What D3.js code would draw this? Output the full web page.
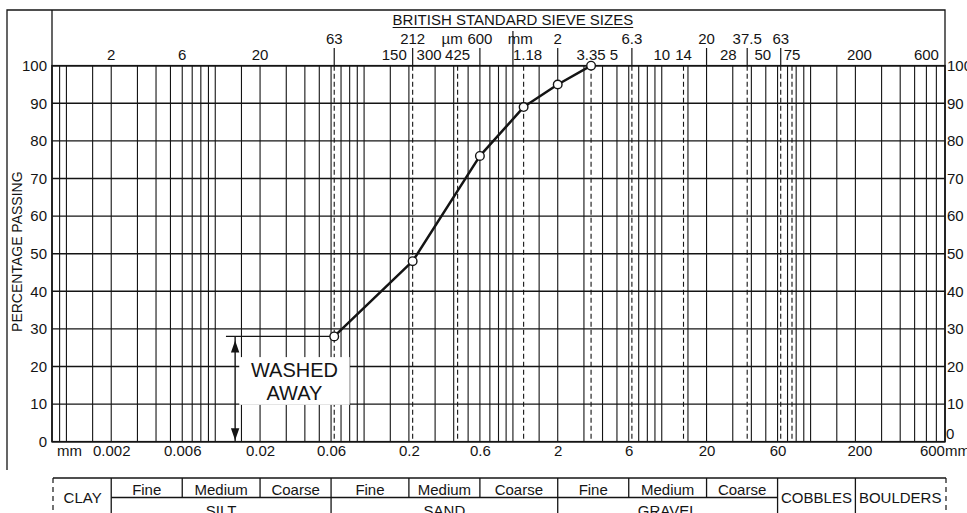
<!DOCTYPE html>
<html>
<head>
<meta charset="utf-8">
<script src="https://cdn.jsdelivr.net/npm/d3@7"></script>
<style>
  body { margin: 0; background: #fff; }
  svg text { font-family: "Liberation Sans", Arial, Helvetica, sans-serif; fill: #141414; }
</style>
</head>
<body>
<svg id="chart" width="967" height="513"></svg>
<script>
// Particle size distribution – sieve analysis results
const sieveSizesMm   = [0.063, 0.212, 0.6, 1.18, 2, 3.35];
const percentPassing = [28, 48, 76, 89, 95, 100];

// Percentage axis
const percentTicks = [0, 10, 20, 30, 40, 50, 60, 70, 80, 90, 100];

// Log grid: mantissas used within each decade
const gridMantissas = [1, 1.5, 2, 3, 4, 5, 6, 7, 8, 9];
const gridExponents = [-4, -3, -2, -1, 0, 1, 2];

// British Standard sieve apertures shown as dashed lines (mm)
const bsSieveLines = [0.063, 0.212, 0.425, 1.18, 3.35, 6.3, 14, 37.5, 63, 75];

// Header labels (mm values, text)
const upperSieveValues = [0.063, 0.212, 0.6, 2, 6.3, 20, 37.5, 63];
const upperSieveLabels = ["63", "212", "600", "2", "6.3", "20", "37.5", "63"];
const lowerSieveValues = [0.002, 0.006, 0.02, 0.15, 0.3, 0.425, 1.18, 3.35, 5, 10, 14, 28, 50, 75, 200, 600];
const lowerSieveLabels = ["2", "6", "20", "150", "300", "425", "1.18", "3.35", "5", "10", "14", "28", "50", "75", "200", "600"];

// Particle size axis labels (mm)
const sizeAxisValues = [0.002, 0.006, 0.02, 0.06, 0.2, 0.6, 2, 6, 20, 60, 200, 600];
const sizeAxisLabels = ["0.002", "0.006", "0.02", "0.06", "0.2", "0.6", "2", "6", "20", "60", "200", "600mm"];

// Soil classification bands (mm)
const soilClasses     = ["CLAY", "SILT", "SAND", "GRAVEL", "COBBLES", "BOULDERS"];
const soilClassBounds = [0.0008, 0.002, 0.06, 2, 60, 200, 800];
const subClassNames   = ["Fine", "Medium", "Coarse"];
const siltSubBounds   = [0.002, 0.006, 0.02, 0.06];
const sandSubBounds   = [0.06, 0.2, 0.6, 2];
const gravelSubBounds = [2, 6, 20, 60];

// ---------------------------------------------------------------
const ink = "#141414";
const svg = d3.select("#chart");
const plot = { left: 52, right: 945, top: 65.7, bottom: 441.7 };

const x = d3.scaleLog().domain([0.0008, 800]).range([plot.left, plot.right]);
const y = d3.scaleLinear().domain([0, 100]).range([plot.bottom, plot.top]);

// outer frame and header box
svg.append("path")
  .attr("d", `M7,470 V10 H${plot.right} V${plot.bottom} M${plot.left},10 V${plot.bottom}`)
  .attr("fill", "none").attr("stroke", ink).attr("stroke-width", 1.3);

// vertical log grid
const gridValues = [];
gridExponents.forEach(e => gridMantissas.forEach(m => {
  const v = +(m * Math.pow(10, e)).toPrecision(6);
  if (v > 0.00081 && v < 790) gridValues.push(v);
}));
const grid = svg.append("g");
grid.selectAll("line.v").data(gridValues).join("line")
  .attr("class", "v")
  .attr("x1", d => x(d)).attr("x2", d => x(d))
  .attr("y1", plot.top).attr("y2", plot.bottom)
  .attr("stroke", ink).attr("stroke-width", 1.1);

// sieve aperture lines
grid.selectAll("line.s").data(bsSieveLines).join("line")
  .attr("class", "s")
  .attr("x1", d => x(d)).attr("x2", d => x(d))
  .attr("y1", plot.top).attr("y2", plot.bottom)
  .attr("stroke", ink).attr("stroke-width", 1.1)
  .attr("stroke-dasharray", "5,3");

// horizontal percentage grid
grid.selectAll("line.h").data(percentTicks).join("line")
  .attr("class", "h")
  .attr("x1", plot.left).attr("x2", plot.right)
  .attr("y1", d => y(d)).attr("y2", d => y(d))
  .attr("stroke", ink).attr("stroke-width", 1.4);

// plot border
svg.append("rect")
  .attr("x", plot.left).attr("y", plot.top)
  .attr("width", plot.right - plot.left).attr("height", plot.bottom - plot.top)
  .attr("fill", "none").attr("stroke", ink).attr("stroke-width", 1.6);

// "washed away" annotation: fines lost below the first sieve
const firstPct = percentPassing[0];
const box = { x0: x(0.0145), x1: x(0.08), y0: y(22.5), y1: y(9.8) };
svg.append("rect")
  .attr("x", box.x0).attr("y", box.y0)
  .attr("width", box.x1 - box.x0).attr("height", box.y1 - box.y0)
  .attr("fill", "#fff");
const arrowX = x(0.0136);
svg.append("line")
  .attr("x1", x(0.0118)).attr("x2", x(sieveSizesMm[0]))
  .attr("y1", y(firstPct)).attr("y2", y(firstPct))
  .attr("stroke", ink).attr("stroke-width", 1.4);
svg.append("line")
  .attr("x1", arrowX).attr("x2", arrowX)
  .attr("y1", y(firstPct)).attr("y2", y(0))
  .attr("stroke", ink).attr("stroke-width", 1.4);
const tipTop = y(firstPct) + 4, tipBot = y(0) - 1.5;
svg.append("path")
  .attr("d", `M${arrowX},${tipTop} L${arrowX - 4.2},${tipTop + 12} L${arrowX + 4.2},${tipTop + 12} Z` +
             `M${arrowX},${tipBot} L${arrowX - 4.2},${tipBot - 12} L${arrowX + 4.2},${tipBot - 12} Z`)
  .attr("fill", ink);
const boxCx = (box.x0 + box.x1) / 2;
svg.append("text").attr("x", boxCx).attr("y", 376.5)
  .attr("text-anchor", "middle").attr("font-size", 20).text("WASHED");
svg.append("text").attr("x", boxCx).attr("y", 400)
  .attr("text-anchor", "middle").attr("font-size", 20).text("AWAY");

// grading curve
const pts = sieveSizesMm.map((d, i) => [d, percentPassing[i]]);
svg.append("path")
  .datum(pts)
  .attr("d", d3.line().x(d => x(d[0])).y(d => y(d[1])))
  .attr("fill", "none").attr("stroke", ink).attr("stroke-width", 2.5)
  .attr("stroke-linejoin", "round");
svg.selectAll("circle.pt").data(pts).join("circle")
  .attr("class", "pt")
  .attr("cx", d => x(d[0])).attr("cy", d => y(d[1])).attr("r", 4.3)
  .attr("fill", "#fff").attr("stroke", ink).attr("stroke-width", 1.4);

// header: title and sieve sizes
const title = svg.append("text")
  .attr("x", x(1)).attr("y", 25)
  .attr("text-anchor", "middle").attr("font-size", 15)
  .text("BRITISH STANDARD SIEVE SIZES");
const tw = title.node().getComputedTextLength();
svg.append("line")
  .attr("x1", x(1) - tw / 2).attr("x2", x(1) + tw / 2)
  .attr("y1", 27.5).attr("y2", 27.5)
  .attr("stroke", ink).attr("stroke-width", 1.2);

const header = svg.append("g").attr("font-size", 15).attr("text-anchor", "middle");
header.selectAll("text.up").data(upperSieveValues).join("text")
  .attr("class", "up")
  .attr("x", d => x(d)).attr("y", 44)
  .text((d, i) => upperSieveLabels[i]);
header.selectAll("line.tick").data(upperSieveValues).join("line")
  .attr("class", "tick")
  .attr("x1", d => x(d)).attr("x2", d => x(d))
  .attr("y1", 48).attr("y2", plot.top)
  .attr("stroke", ink).attr("stroke-width", 1.2);
const lowerNudge = { "150": 4, "300": -6, "5": -3, "1.18": 4, "200": 4, "50": -3 };
header.selectAll("text.low").data(lowerSieveValues).join("text")
  .attr("class", "low")
  .attr("x", (d, i) => x(d) + (lowerNudge[lowerSieveLabels[i]] || 0)).attr("y", 60)
  .text((d, i) => lowerSieveLabels[i]);
header.append("text").attr("x", x(0.39)).attr("y", 44).text("µm");
header.append("text").attr("x", x(1.12)).attr("y", 44).text("mm");
svg.append("line")
  .attr("x1", x(1)).attr("x2", x(1)).attr("y1", 31).attr("y2", plot.top)
  .attr("stroke", ink).attr("stroke-width", 1.2);

// percentage axes
const yLeft = svg.append("g").attr("transform", `translate(${plot.left},0)`)
  .call(d3.axisLeft(y).tickValues(percentTicks).tickSize(0).tickPadding(5));
const yRight = svg.append("g").attr("transform", `translate(${plot.right},0)`)
  .call(d3.axisRight(y).tickValues(percentTicks).tickSize(0).tickPadding(2));
[yLeft, yRight].forEach(a => {
  a.select(".domain").remove();
  a.selectAll("text").attr("font-size", 15).attr("font-family", null).style("fill", ink);
});
yRight.selectAll(".tick").filter(d => d === 0).select("text").attr("dy", "-0.2em").attr("x", 1);

svg.append("text")
  .attr("transform", `translate(22,${(plot.top + plot.bottom) / 2 - 2}) rotate(-90)`)
  .attr("text-anchor", "middle").attr("font-size", 14)
  .text("PERCENTAGE PASSING");

// particle size axis
const xAxis = svg.append("g").attr("transform", `translate(0,${plot.bottom})`)
  .call(d3.axisBottom(x).tickValues(sizeAxisValues).tickSize(0).tickPadding(4)
    .tickFormat((d, i) => sizeAxisLabels[i]));
xAxis.select(".domain").remove();
xAxis.selectAll("text").attr("font-size", 15).attr("font-family", null).style("fill", ink);
xAxis.selectAll(".tick").filter(d => d === 600).select("text")
  .attr("text-anchor", "start").attr("x", -7);
xAxis.selectAll(".tick").filter(d => d === 200).select("text").attr("x", 4);
svg.append("text").attr("x", plot.left + 5).attr("y", plot.bottom + 14.6)
  .attr("font-size", 15).text("mm");

// soil classification table
const tTop = 478, tMid = 497.5, tBot = 525;
const table = svg.append("g");
const edge = (v, y1, y2) => table.append("line")
  .attr("x1", x(v)).attr("x2", x(v)).attr("y1", y1).attr("y2", y2)
  .attr("stroke", ink).attr("stroke-width", 1.3);
table.append("line").attr("x1", x(0.0008) + 1).attr("x2", x(800) + 1)
  .attr("y1", tTop).attr("y2", tTop).attr("stroke", ink).attr("stroke-width", 1.4);
table.append("line").attr("x1", x(0.002)).attr("x2", x(60))
  .attr("y1", tMid).attr("y2", tMid).attr("stroke", ink).attr("stroke-width", 1.3);
[x(0.0008) + 1, x(800) + 1].forEach(px => table.append("line")
  .attr("x1", px).attr("x2", px).attr("y1", tTop).attr("y2", tBot)
  .attr("stroke", ink).attr("stroke-width", 1.2).attr("stroke-dasharray", "5,4"));
soilClassBounds.slice(1, -1).forEach(v => edge(v, tTop, tBot));
[siltSubBounds, sandSubBounds, gravelSubBounds].forEach(b => {
  b.slice(1, -1).forEach(v => edge(v, tTop, tMid));
  b.slice(0, -1).forEach((v, i) => {
    table.append("text")
      .attr("x", (x(v) + x(b[i + 1])) / 2)
      .attr("y", 494.5).attr("text-anchor", "middle").attr("font-size", 15)
      .text(subClassNames[i]);
  });
});
soilClasses.forEach((name, i) => {
  const cx = (x(soilClassBounds[i]) + x(soilClassBounds[i + 1])) / 2 + (i === 0 ? 1 : 0);
  const split = (name === "SILT" || name === "SAND" || name === "GRAVEL");
  table.append("text")
    .attr("x", cx).attr("y", split ? 515.5 : 503)
    .attr("text-anchor", "middle").attr("font-size", 15)
    .text(name);
});
</script>
</body>
</html>
